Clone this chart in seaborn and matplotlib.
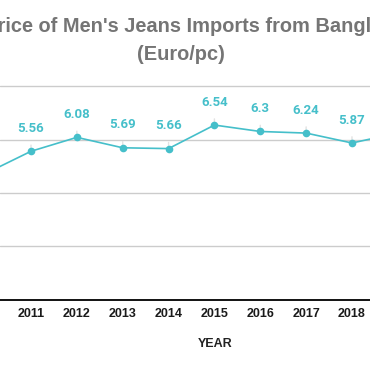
import matplotlib
matplotlib.use("Agg")
import matplotlib.pyplot as plt
import seaborn as sns
import pandas as pd

years = [2010, 2011, 2012, 2013, 2014, 2015, 2016, 2017, 2018, 2019]
prices = [4.72, 5.56, 6.08, 5.69, 5.66, 6.54, 6.30, 6.24, 5.87, 6.24]
labels = ["4.72", "5.56", "6.08", "5.69", "5.66", "6.54", "6.3", "6.24", "5.87", "6.24"]
tick_years = [2011, 2012, 2013, 2014, 2015, 2016, 2017, 2018]
title_line1 = "Unit Price of Men's Jeans Imports from Bangladesh"
title_line2 = "(Euro/pc)"
x_title = "YEAR"

df = pd.DataFrame({"year": years, "price": prices})

sns.set_theme(style="white")
plt.rcParams["font.family"] = ["Liberation Sans", "DejaVu Sans"]

teal = "#45bfca"
fig = plt.figure(figsize=(3.70, 3.71), dpi=100)
ax = fig.add_axes([0.0, 0.1914, 1.0, 0.5912])

sns.lineplot(data=df, x="year", y="price", ax=ax, color=teal, linewidth=1.2,
             marker="o", markersize=5.5, markeredgewidth=0, zorder=4)

ax.set_yticks([0, 2, 4, 6, 8])
ax.set_xticks(tick_years)
ax.set_xticklabels([str(y) for y in tick_years], fontsize=9, fontweight="bold", color="#1a1a1a")
ax.set_xlim(2010.324, 2018.393)
ax.set_ylim(0, 8.2)
ax.yaxis.grid(True, color="#cccccc", linewidth=1.0)
ax.xaxis.grid(False)
ax.set_yticklabels([])
ax.tick_params(axis="y", length=0)
ax.tick_params(axis="x", length=0, pad=6)
for s in ["left", "right", "top"]:
    ax.spines[s].set_visible(False)
ax.spines["bottom"].set_color("#111111")
ax.spines["bottom"].set_linewidth(1.4)
ax.set_xlabel("")
ax.set_ylabel("")

for x, y, lab in zip(years, prices, labels):
    ax.annotate(lab, xy=(x, y), xytext=(0, 16.5), textcoords="offset points",
                ha="center", va="center", fontsize=9.5, color=teal,
                fontfamily="Roboto", fontweight="bold",
                arrowprops=dict(arrowstyle="-", color="#e2e2e2", lw=1.0,
                                shrinkA=5, shrinkB=2.2),
                zorder=3)

fig.text(184 / 370, 1 - 27 / 371, title_line1, ha="center", va="center",
         fontsize=14.4, fontweight="bold", color="#757575")
fig.text(181 / 370, 1 - 55 / 371, title_line2, ha="center", va="center",
         fontsize=14.4, fontweight="bold", color="#757575")
fig.text(215 / 370, 1 - 344 / 371, x_title, ha="center", va="center",
         fontsize=9, fontweight="bold", color="#222222")

fig.savefig("out.png", dpi=100)
